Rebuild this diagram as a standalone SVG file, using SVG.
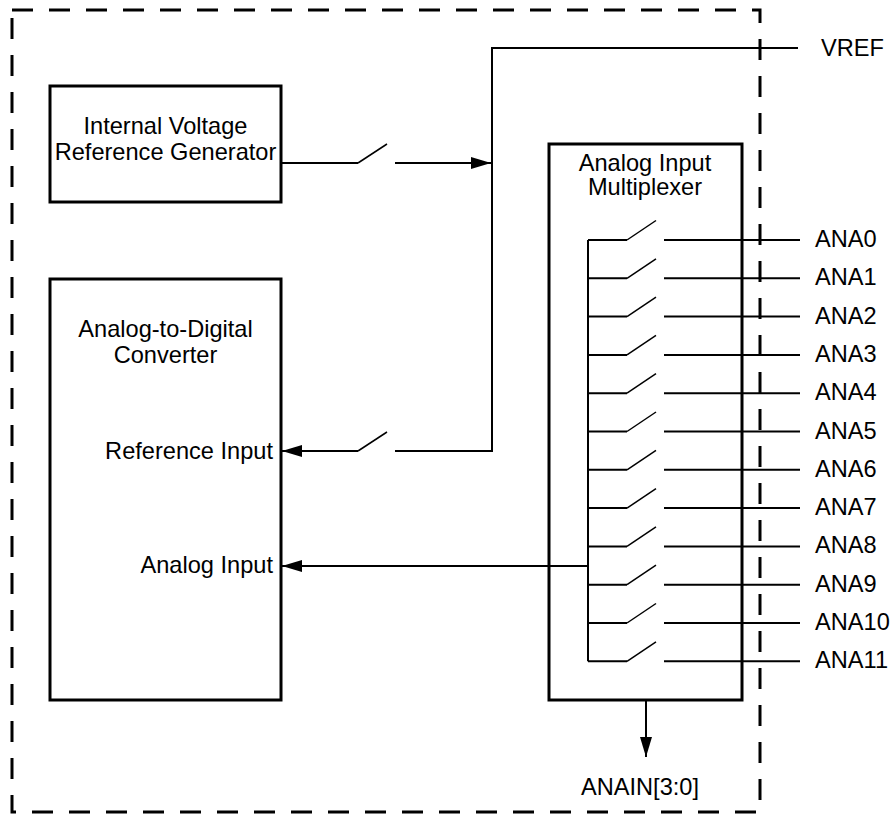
<svg xmlns="http://www.w3.org/2000/svg" width="892" height="815" viewBox="0 0 892 815">
  <style>
    .box { fill: none; stroke: #000; stroke-width: 3; }
    .border { fill: none; stroke: #000; stroke-width: 3; stroke-dasharray: 21 16; }
    .wire { fill: none; stroke: #000; stroke-width: 2; }
    .blade { fill: none; stroke: #000; stroke-width: 1.5; }
    text { font-family: "Liberation Sans", Arial, sans-serif; font-size: 23.6px; fill: #000; }
    .c { text-anchor: middle; }
    .e { text-anchor: end; }
  </style>
  <defs>
    <marker id="arr" markerUnits="userSpaceOnUse" markerWidth="20" markerHeight="12" refX="20" refY="6" orient="auto">
      <path d="M0,0 L20,6 L0,12 z" fill="#000"/>
    </marker>
  </defs>
  <rect width="892" height="815" fill="#fff"/>
  <rect id="chip-boundary" class="border" x="12" y="10" width="748" height="802"/>

  <g id="ivrg">
    <rect class="box" x="50" y="86" width="231" height="116"/>
    <text class="c" x="165.5" y="134">Internal Voltage</text>
    <text class="c" x="165.5" y="160">Reference Generator</text>
  </g>

  <g id="adc">
    <rect class="box" x="50" y="279" width="231" height="421"/>
    <text class="c" x="165.5" y="337">Analog-to-Digital</text>
    <text class="c" x="165.5" y="363">Converter</text>
    <text class="e" x="273" y="459">Reference Input</text>
    <text class="e" x="273" y="573">Analog Input</text>
  </g>

  <g id="mux">
    <rect class="box" x="549" y="144" width="193" height="556"/>
    <text class="c" x="645" y="171">Analog Input</text>
    <text class="c" x="645" y="195">Multiplexer</text>
  </g>

  <g id="labels">
    <text x="821" y="56">VREF</text>
    <text x="815" y="247">ANA0</text>
    <text x="815" y="285.3">ANA1</text>
    <text x="815" y="323.6">ANA2</text>
    <text x="815" y="361.9">ANA3</text>
    <text x="815" y="400.2">ANA4</text>
    <text x="815" y="438.5">ANA5</text>
    <text x="815" y="476.8">ANA6</text>
    <text x="815" y="515.1">ANA7</text>
    <text x="815" y="553.4">ANA8</text>
    <text x="815" y="591.7">ANA9</text>
    <text x="815" y="630">ANA10</text>
    <text x="815" y="668.3">ANA11</text>
    <text class="c" x="640" y="795">ANAIN[3:0]</text>
  </g>

  <g id="connectors">
    <!-- IVRG output through switch to VREF node -->
    <path class="wire" d="M281,163 H358"/>
    <path class="blade" d="M358,163 L387,144"/>
    <path class="wire" d="M395,163 H491" marker-end="url(#arr)"/>
    <!-- VREF net to ADC reference input -->
    <path class="wire" d="M798,48 H492 V451 H395"/>
    <path class="blade" d="M358,451 L387,432"/>
    <path class="wire" d="M358,451 H282" marker-end="url(#arr)"/>
    <!-- Mux output to ADC analog input -->
    <path class="wire" d="M588,566 H282" marker-end="url(#arr)"/>
    <!-- Mux bus -->
    <path class="wire" d="M588,240 V661.3"/>
    <!-- Mux channel switches -->
    <g id="ch0"><path class="wire" d="M588,240 H627 M664,240 H800"/><path class="blade" d="M627,240 L656,220.5"/></g>
    <g id="ch1"><path class="wire" d="M588,278.3 H627 M664,278.3 H800"/><path class="blade" d="M627,278.3 L656,258.8"/></g>
    <g id="ch2"><path class="wire" d="M588,316.6 H627 M664,316.6 H800"/><path class="blade" d="M627,316.6 L656,297.1"/></g>
    <g id="ch3"><path class="wire" d="M588,354.9 H627 M664,354.9 H800"/><path class="blade" d="M627,354.9 L656,335.4"/></g>
    <g id="ch4"><path class="wire" d="M588,393.2 H627 M664,393.2 H800"/><path class="blade" d="M627,393.2 L656,373.7"/></g>
    <g id="ch5"><path class="wire" d="M588,431.5 H627 M664,431.5 H800"/><path class="blade" d="M627,431.5 L656,412"/></g>
    <g id="ch6"><path class="wire" d="M588,469.8 H627 M664,469.8 H800"/><path class="blade" d="M627,469.8 L656,450.3"/></g>
    <g id="ch7"><path class="wire" d="M588,508.1 H627 M664,508.1 H800"/><path class="blade" d="M627,508.1 L656,488.6"/></g>
    <g id="ch8"><path class="wire" d="M588,546.4 H627 M664,546.4 H800"/><path class="blade" d="M627,546.4 L656,526.9"/></g>
    <g id="ch9"><path class="wire" d="M588,584.7 H627 M664,584.7 H800"/><path class="blade" d="M627,584.7 L656,565.2"/></g>
    <g id="ch10"><path class="wire" d="M588,623 H627 M664,623 H800"/><path class="blade" d="M627,623 L656,603.5"/></g>
    <g id="ch11"><path class="wire" d="M588,661.3 H627 M664,661.3 H800"/><path class="blade" d="M627,661.3 L656,641.8"/></g>
    <!-- ANAIN select -->
    <path class="wire" d="M646,700 V757" marker-end="url(#arr)"/>
  </g>
</svg>
